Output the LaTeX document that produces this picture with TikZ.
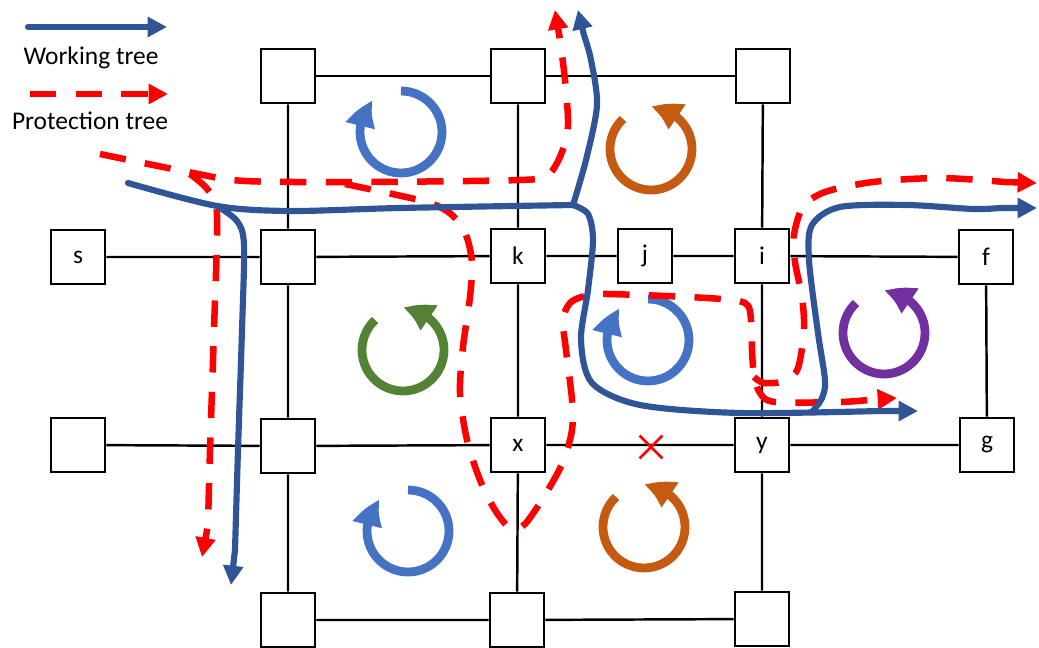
\documentclass[tikz,border=0pt]{standalone}
\usepackage{fontspec}
\setmainfont{Carlito}
\usetikzlibrary{arrows.meta, bending, shapes.misc}
\definecolor{workblue}{HTML}{2F5597}
\definecolor{protred}{HTML}{FF0000}
\definecolor{cycblue}{HTML}{4472C4}
\definecolor{cycorange}{HTML}{C55A11}
\definecolor{cycgreen}{HTML}{548235}
\definecolor{cycpurple}{HTML}{7030A0}

\tikzset{
  router/.style={draw, line width=1.6pt, fill=white, minimum size=1.08cm, inner sep=0pt,
    font=\fontsize{14.5}{17}\selectfont},
  link/.style={line width=1.4pt},
  work/.style={draw=workblue, line width=3.5pt, line cap=round},
  prot/.style={draw=protred, line width=3.7pt, dash pattern=on 15pt off 11pt},
  worktip/.style={-{Triangle[length=11pt, width=11pt]}},
  prottip/.style={-{Triangle[length=11pt, width=11pt]}},
  cycle/.style={line width=5pt, -{Triangle[length=16pt, width=16pt, bend]}},
  legend/.style={font=\fontsize{14.5}{17}\selectfont}
}

\begin{document}
\begin{tikzpicture}[x=0.02cm, y=-0.02cm]
    \useasboundingbox (0,0) rectangle (1039,648);

    % routers
    \node[router] (t1) at (288,76) {};
    \node[router] (t2) at (518,76) {};
    \node[router] (t3) at (763,76) {};
    \node[router] (s) at (78,257) {s};
    \node[router] (a) at (288,257) {};
    \node[router] (k) at (518,256) {k};
    \node[router] (j) at (645,256) {j};
    \node[router] (i) at (762,256) {i};
    \node[router] (f) at (986,257) {f};
    \node[router] (b) at (78,445) {};
    \node[router] (c) at (288,446) {};
    \node[router] (x) at (518,445) {x};
    \node[router] (y) at (762,445) {y};
    \node[router] (g) at (987,445) {g};
    \node[router] (d1) at (288,620) {};
    \node[router] (d2) at (517,620) {};
    \node[router] (d3) at (762,619) {};

    % links
    \draw[link] (t1) -- (t2) (t2) -- (t3);
    \draw[link] (t1) -- (a) (t2) -- (k) (t3) -- (i);
    \draw[link] (s) -- (a) (a) -- (k) (k) -- (j) (j) -- (i) (i) -- (f);
    \draw[link] (a) -- (c) (k) -- (x) (i) -- (y) (f) -- (g);
    \draw[link] (b) -- (c) (c) -- (x) (x) -- (y) (y) -- (g);
    \draw[link] (c) -- (d1) (x) -- (d2) (y) -- (d3);
    \draw[link] (d1) -- (d2) (d2) -- (d3);

    % failed link x--y
    \node[cross out, draw=protred, line width=1.6pt, minimum size=0.4cm, inner sep=0pt] (cut) at (651,447) {};

    % face cycles
    \draw[cycle, cycblue] (401,132) ++(90:0.82cm) arc[start angle=90, end angle=-228, radius=0.82cm];
    \draw[cycle, cycblue] (648,340) ++(90:0.82cm) arc[start angle=90, end angle=-228, radius=0.82cm];
    \draw[cycle, cycblue] (408,531) ++(90:0.82cm) arc[start angle=90, end angle=-228, radius=0.82cm];
    \draw[cycle, cycorange] (651,149) ++(133:0.82cm) arc[start angle=133, end angle=450, radius=0.82cm];
    \draw[cycle, cycorange] (644,527) ++(133:0.82cm) arc[start angle=133, end angle=450, radius=0.82cm];
    \draw[cycle, cycgreen] (403,350) ++(133:0.82cm) arc[start angle=133, end angle=450, radius=0.82cm];
    \draw[cycle, cycpurple] (884,333) ++(133:0.82cm) arc[start angle=133, end angle=450, radius=0.82cm];

    % protection tree
    \draw[prot, prottip] plot[smooth] coordinates {(100,154) (193,173) (245,181) (360,182) (520,180) (548,175) (562,152) (568,125) (565,80) (560,40)} -- (555,10);
    \draw[prot, prottip] plot[smooth] coordinates {(190,174) (208,190) (217,215) (214,330) (210,450) (208,525)} -- (202,557);
    \draw[prot, prottip] plot[smooth] coordinates {(345,184) (383,192) (430,203) (452,215) (466,235) (472,263) (470,297) (463,347) (460,393) (467,440) (480,480) (495,510) (511,529) (525,524) (545,495) (563,462) (572,430) (572,400) (566,350) (563,320) (570,303) (585,296) (607,294) (707,298) (745,303) (751,320) (752,350) (754,375) (760,393) (775,402) (840,402) (868,400)} -- (897,398);
    \draw[prot, prottip] plot[smooth] coordinates {(754,377) (764,383) (785,381) (798,368) (804,330) (802,297) (795,262) (794,235) (803,207) (825,192) (873,182) (940,178) (1005,182)} -- (1037,183);

    % working tree
    \draw[work] plot[smooth] coordinates {(128,183) (217,206) (290,211) (400,208) (573,205)};
    \draw[work, worktip] plot[smooth] coordinates {(217,206) (237,221) (244,245) (242,330) (238,450) (235,550)} -- (231,585);
    \draw[work, worktip] plot[smooth] coordinates {(573,205) (586,160) (597,105) (591,60) (584,35)} -- (578,10);
    \draw[work, worktip] plot[smooth] coordinates {(573,205) (588,214) (593,240) (588,290) (581,340) (592,383) (640,405) (740,413) (880,411)} -- (918,411);
    \draw[work, worktip] plot[smooth] coordinates {(812,412) (822,398) (825,380) (818,333) (809,260) (812,225) (840,207) (907,205) (973,209) (1000,208)} -- (1037,208);

    % legend
    \draw[work, worktip] (28,27) -- (167,27);
    \node[legend] (wl) at (91,58) {Working tree};
    \draw[prot, prottip] (30,94) -- (168,94);
    \node[legend] (pl) at (90,121) {Protection tree};
\end{tikzpicture}
\end{document}
